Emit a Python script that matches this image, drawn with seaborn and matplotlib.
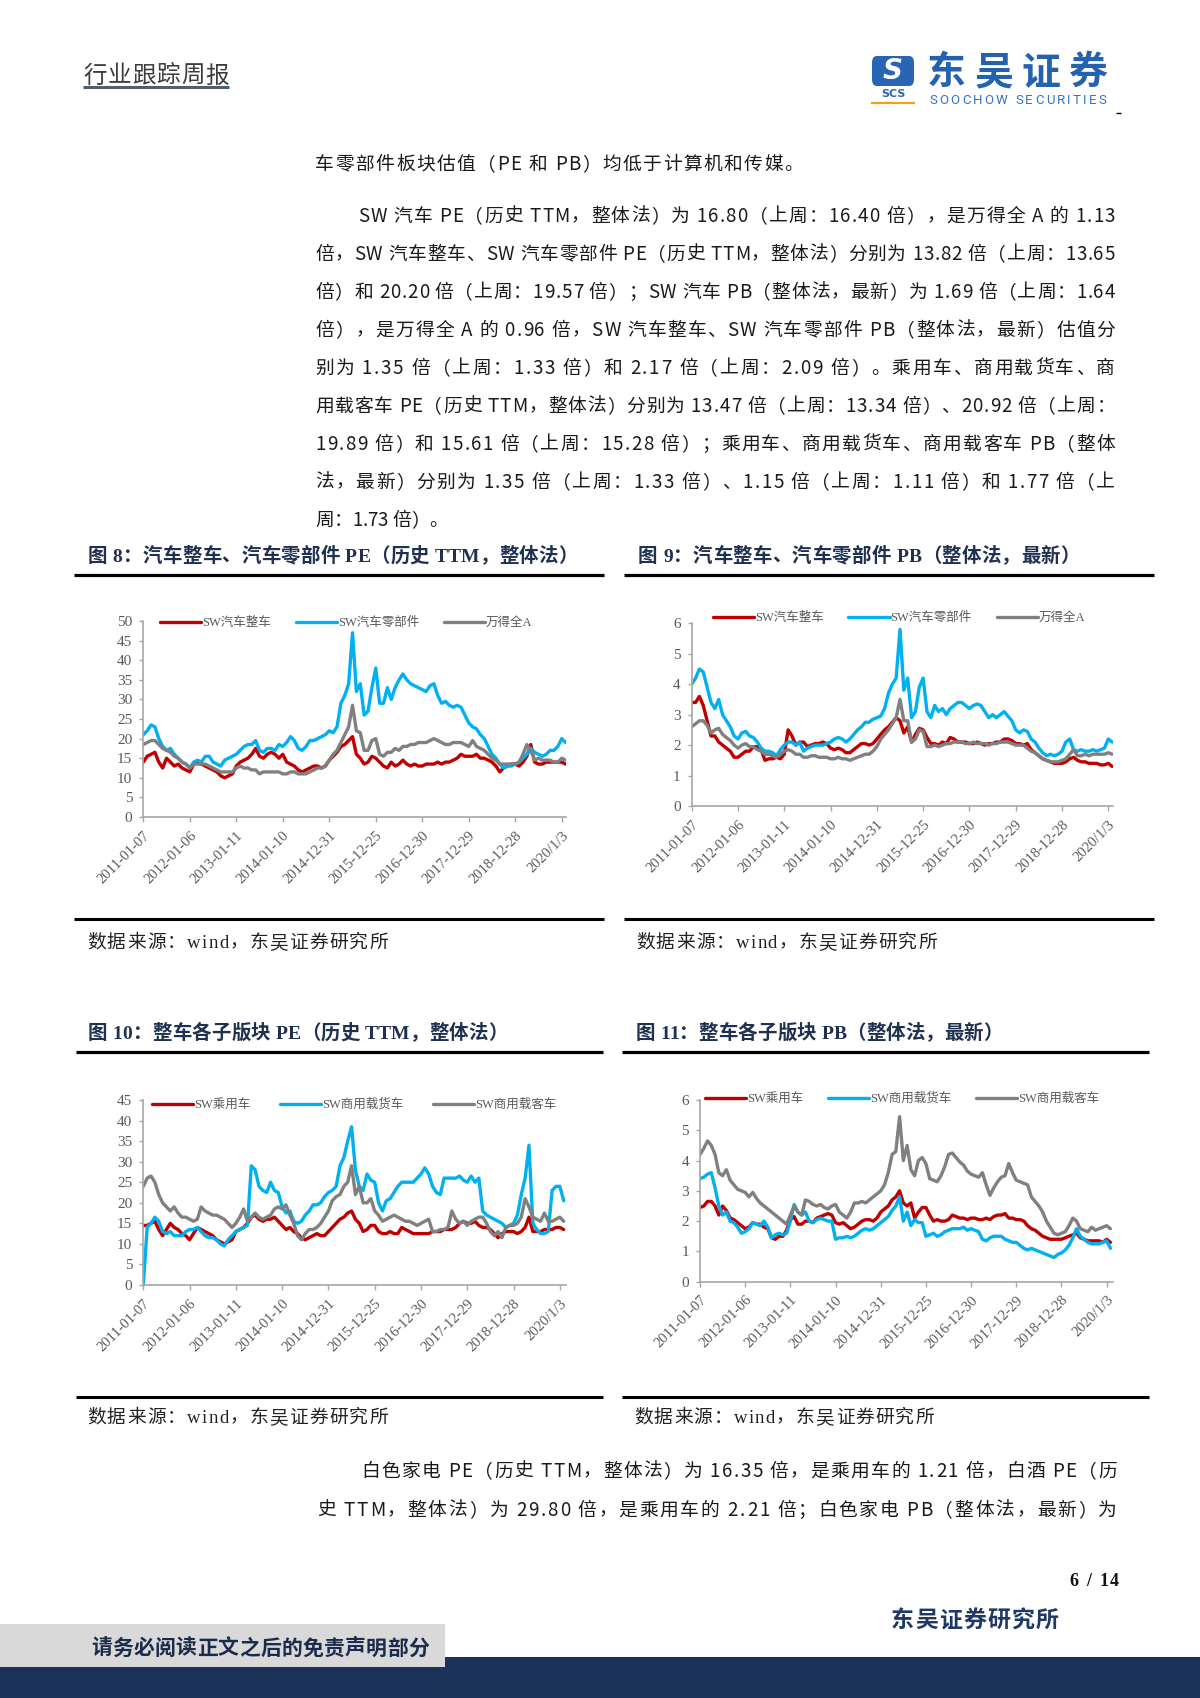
import numpy as np
import pandas as pd
import matplotlib
matplotlib.use("Agg")
import matplotlib.pyplot as plt
import seaborn as sns
from matplotlib.font_manager import FontProperties
from matplotlib.patches import Rectangle, FancyBboxPatch
from matplotlib.lines import Line2D

# ------------------------------------------------------------------ data
month_index = list(range(110))          # monthly points, 2011-01 .. 2020-02
tick_months = [0, 12, 24, 36, 48, 60, 72, 84, 96, 108]
tick_labels = ["2011-01-07", "2012-01-06", "2013-01-11", "2014-01-10", "2014-12-31",
               "2015-12-25", "2016-12-30", "2017-12-29", "2018-12-28", "2020/1/3"]

names_top = ["SW汽车整车", "SW汽车零部件", "万得全A"]
names_bot = ["SW乘用车", "SW商用载货车", "SW商用载客车"]

# Fig 8: PE (TTM)
pe_zc = [14, 15.5, 16, 16.5, 14, 12.5, 15, 14, 13, 13.5,
         12.5, 12, 11.5, 13.5, 14, 13.5, 13, 12.5, 12, 11.5,
         10.5, 10, 10.5, 11, 13, 14, 14.5, 15, 16, 17.5,
         15.5, 15, 16, 16.5, 16, 15, 16, 14, 13.5, 13,
         12, 11.5, 12, 12.5, 13, 13, 12.5, 13, 14.5, 15.5,
         16.5, 18, 18.5, 19.5, 20.5, 16, 15, 13.5, 14, 15.5,
         15, 14, 13, 12.5, 14, 13, 13.5, 14.5, 13.5, 13,
         13.5, 13, 13, 13.5, 13.5, 13.5, 14, 13.5, 14, 14,
         14.5, 15, 16, 15.5, 15.5, 15.5, 16, 15, 15, 14.5,
         14, 13, 11.5, 12.5, 13, 13.5, 13.5, 13, 14, 15.5,
         18.5, 14, 13.5, 13.5, 14, 14, 14, 14, 14, 13.5]
pe_lbj = [21, 22, 23.5, 23, 20, 18, 17, 17.5, 16, 15,
          14, 13.5, 12.5, 14, 14.5, 14, 15.5, 15.5, 14, 13.5,
          13, 14.5, 15, 15.5, 16, 17, 18, 18.5, 18.5, 19.5,
          17, 16.5, 17.5, 17.5, 17, 18.5, 18, 19, 20.5, 19.5,
          17.5, 17, 18, 19.5, 19.5, 20, 20.5, 21, 22, 21.5,
          23, 29, 31, 34, 47, 32, 34, 26, 27, 33,
          38, 29, 29, 33, 30, 33, 35, 36.5, 35, 34,
          33.5, 33, 32.5, 32, 33.5, 34, 31, 29, 29.5, 28.5,
          28, 28.5, 28, 26, 24, 23, 22.5, 21, 20, 18,
          16, 15, 13.5, 12.5, 13, 13, 13.5, 14, 15, 16,
          17.5, 16.5, 16, 15.5, 16, 17, 17, 18, 20, 19]
pe_qa = [18.5, 19, 19.5, 19.5, 18.5, 17.5, 17, 16.5, 15.5, 15,
         14, 13.5, 12.5, 13.5, 13.5, 13.5, 13.5, 13, 12.5, 12,
         11.5, 11.5, 11.5, 11.5, 12.5, 13, 12.5, 12.5, 12, 12,
         11, 11.5, 11.5, 11.5, 11.5, 11.5, 11, 11, 11.5, 11.5,
         11, 11, 11, 11.5, 12, 12.5, 12.5, 13, 14.5, 16,
         17, 19, 21, 23, 28.5, 22, 21.5, 17, 17, 19.5,
         20, 16, 15.5, 16.5, 16.5, 17.5, 17, 18, 18, 18.5,
         18.5, 19, 19, 19, 19.5, 20, 19.5, 19, 18.5, 18.5,
         19, 19, 19, 18.5, 18, 19.5, 18, 17.5, 17, 16,
         15, 14.5, 13.5, 13.5, 13.5, 13.5, 13.5, 14, 16, 18.5,
         17, 14.5, 15, 14.5, 14.5, 14.5, 14, 14, 15, 14.5]

# Fig 9: PB (LF)
pb_zc = [3.4, 3.4, 3.6, 3.3, 2.8, 2.3, 2.3, 2.1, 2.0, 1.9,
         1.8, 1.6, 1.6, 1.7, 1.8, 1.8, 1.95, 1.95, 1.85, 1.5,
         1.55, 1.55, 1.6, 1.55, 1.7, 2.5, 2.3, 2.0, 2.1, 2.1,
         1.95, 2.0, 2.05, 2.05, 2.1, 2.05, 1.9, 1.85, 1.9, 1.85,
         1.75, 1.75, 1.85, 1.95, 2.05, 2.05, 2.0, 2.05, 2.2, 2.35,
         2.5, 2.6, 2.75, 2.9, 2.8, 2.4, 2.6, 2.1, 2.35, 2.55,
         2.5, 2.25, 2.05, 2.05, 2.0, 2.1, 2.05, 2.25, 2.2, 2.1,
         2.1, 2.1, 2.05, 2.05, 2.1, 2.05, 2.0, 2.05, 2.05, 2.1,
         2.1, 2.2, 2.2, 2.15, 2.05, 2.05, 2.0, 2.05, 1.85, 1.75,
         1.65, 1.55, 1.5, 1.45, 1.4, 1.4, 1.4, 1.45, 1.55, 1.6,
         1.5, 1.45, 1.45, 1.4, 1.4, 1.4, 1.35, 1.35, 1.4, 1.3]
pb_lbj = [4.0, 4.2, 4.5, 4.4, 3.9, 3.4, 3.2, 3.5, 3.0, 2.8,
          2.6, 2.3, 2.2, 2.4, 2.45, 2.3, 2.25, 2.1, 1.9, 1.8,
          1.8, 1.75, 1.65, 1.85, 2.0, 2.1, 2.1, 2.0, 2.1, 1.8,
          1.9, 1.95, 2.0, 2.0, 2.0, 2.05, 2.1, 2.2, 2.25, 2.2,
          2.1, 2.2, 2.35, 2.5, 2.6, 2.75, 2.75, 2.85, 2.9, 2.95,
          3.2, 3.7, 4.0, 4.2, 5.8, 3.8, 4.2, 2.9, 3.1, 3.9,
          4.2, 3.1, 2.9, 3.3, 3.1, 3.2, 3.0, 3.2, 3.3, 3.4,
          3.4, 3.3, 3.2, 3.3, 3.35, 3.3, 3.1, 2.9, 3.0, 2.9,
          3.0, 3.1, 2.95, 2.8, 2.5, 2.4, 2.5, 2.45, 2.2, 2.1,
          1.9, 1.75, 1.65, 1.7, 1.65, 1.7, 1.8, 2.1, 2.2, 1.85,
          1.8, 1.85, 1.8, 1.8, 1.85, 1.8, 1.85, 1.9, 2.2, 2.1]
pb_qa = [2.6, 2.7, 2.8, 2.8, 2.65, 2.4, 2.5, 2.55, 2.35, 2.25,
         2.15, 2.0, 1.9, 2.0, 2.05, 1.95, 1.95, 1.85, 1.8, 1.7,
         1.7, 1.65, 1.6, 1.7, 1.8, 1.85, 1.8, 1.7, 1.7, 1.6,
         1.6, 1.65, 1.65, 1.6, 1.6, 1.6, 1.55, 1.55, 1.6, 1.55,
         1.55, 1.5, 1.55, 1.6, 1.65, 1.7, 1.7, 1.8, 1.95, 2.2,
         2.35, 2.5, 2.7, 2.9, 3.5, 2.8, 2.8, 2.1, 2.2, 2.5,
         2.45, 1.95, 1.95, 2.0, 1.95, 2.0, 2.05, 2.05, 2.1, 2.1,
         2.1, 2.05, 2.05, 2.1, 2.05, 2.05, 2.05, 2.0, 2.05, 2.05,
         2.1, 2.1, 2.1, 2.05, 2.0, 2.0, 2.0, 1.9, 1.8, 1.75,
         1.65, 1.55, 1.5, 1.45, 1.45, 1.45, 1.5, 1.55, 1.7, 1.85,
         1.65, 1.65, 1.7, 1.65, 1.7, 1.7, 1.7, 1.7, 1.75, 1.7]

# Fig 10: sub-sector PE (TTM)
pe_cyc = [14.5, 14.5, 15, 15.5, 13.5, 12, 13.5, 15, 14, 13.5,
          12.5, 12, 11, 12.5, 14, 13.5, 13, 12.5, 12, 11,
          10.5, 10, 10.5, 11, 13, 13.5, 14, 15, 16.5, 17,
          16, 15.5, 16, 16, 16.5, 15.5, 14.5, 13.5, 14, 13,
          12.5, 11.5, 11, 11.5, 12, 12.5, 12, 12, 13, 14,
          15, 16, 16.5, 17.5, 18, 16, 15, 13, 13.5, 14.5,
          14.5, 13, 12.5, 12.5, 13, 12.5, 12.5, 14, 13.5, 13,
          12.5, 12.5, 12.5, 12.5, 12.5, 13, 13, 13, 13.5, 13.5,
          13.5, 14, 15, 15.5, 15, 15, 15.5, 14.5, 14, 14,
          13.5, 12.5, 11.5, 12.5, 13, 13, 13, 12.5, 13, 14,
          16.5, 13, 13, 13, 13.5, 13.5, 13.5, 14, 14, 13.5]
pe_hc = [0, 14, 15, 16.5, 15.5, 13, 12.5, 13, 12, 12,
         12, 13, 13.5, 13.5, 14, 13, 12, 11.5, 11.5, 11,
         10, 9.5, 11, 12, 13, 13.5, 14, 14.5, 29, 28,
         24, 23, 22.5, 25, 23, 22.5, 19, 17.5, 18, 15.5,
         15, 15.5, 17, 18, 19.5, 19.5, 20, 21.5, 22.5, 23,
         24, 29, 31, 35, 38.5, 28, 24, 23, 27, 25.5,
         25, 20, 18, 20.5, 21, 22.5, 24, 25, 25, 25,
         25, 26, 27, 28.5, 27, 24, 22.5, 22, 26, 26,
         26, 26, 26.5, 25.5, 25, 26.5, 25, 26, 18, 17,
         16.5, 16, 15.5, 15, 14, 14.5, 15, 17, 22, 26,
         34, 15, 13.5, 12.5, 12.5, 13, 23, 24, 24, 20.5]
pe_kc = [24, 26, 26.5, 25, 22, 20, 19, 18, 19, 17.5,
         16.5, 16.5, 16, 15.5, 16, 19, 18, 17.5, 17, 17,
         16.5, 16, 15, 14, 15, 16.5, 18.5, 15.5, 16.5, 17.5,
         16.5, 16, 16.5, 17, 18.5, 19, 18.5, 19.5, 17, 15,
         12, 11, 12.5, 13.5, 13.5, 14, 15, 16.5, 18, 20.5,
         21.5, 22, 24, 25, 29, 22, 24, 20, 20, 21,
         18, 17, 15.5, 16, 16.5, 17, 16.5, 16, 15.5, 15.5,
         15, 14.5, 15, 15.5, 16, 13, 13, 13.5, 13.5, 14,
         18, 16, 15, 15.5, 14.5, 15.5, 16, 16.5, 16.5, 15,
         13, 12, 13, 11.5, 14, 14.5, 14.5, 15, 16.5, 21,
         19, 16.5, 16, 15.5, 17.5, 15.5, 15.5, 16, 16.5, 15.5]

# Fig 11: sub-sector PB (LF)
pb_cyc = [2.45, 2.5, 2.65, 2.65, 2.5, 2.2, 2.5, 2.35, 2.1, 2.05,
          1.95, 1.85, 1.75, 1.8, 1.95, 1.9, 1.9, 1.8, 1.75, 1.45,
          1.4, 1.5, 1.5, 1.7, 2.05, 2.15, 1.9, 1.9, 2.0, 2.0,
          1.95, 2.1, 2.15, 2.2, 2.25, 2.2, 1.95, 1.9, 1.95, 1.85,
          1.75, 1.8, 1.9, 2.0, 2.05, 2.05, 2.0, 2.1, 2.3, 2.4,
          2.5, 2.7, 2.8, 3.0, 2.6, 2.5, 2.6, 2.1, 2.3, 2.45,
          2.45, 2.2, 2.0, 2.05, 2.0, 2.0, 2.05, 2.2, 2.15, 2.1,
          2.1, 2.05, 2.1, 2.1, 2.05, 2.05, 2.1, 2.05, 2.15, 2.2,
          2.2, 2.25, 2.1, 2.1, 2.05, 2.05, 2.0, 1.85, 1.75, 1.7,
          1.6, 1.5, 1.45, 1.4, 1.4, 1.4, 1.4, 1.45, 1.5, 1.55,
          1.6, 1.45, 1.4, 1.35, 1.35, 1.35, 1.35, 1.3, 1.4, 1.3]
pb_hc = [3.4, 3.45, 3.55, 3.6, 3.1, 2.5, 2.2, 2.3, 2.0, 1.95,
         1.8, 1.6, 1.65, 1.75, 1.95, 1.9, 1.85, 2.0, 1.8, 1.45,
         1.55, 1.6, 1.55, 1.6, 2.0, 2.55, 2.3, 2.2, 2.3, 2.0,
         1.95, 2.05, 2.1, 2.05, 2.0, 2.0, 1.4, 1.45, 1.45, 1.5,
         1.45, 1.5, 1.6, 1.7, 1.75, 1.7, 1.75, 1.85, 1.95, 2.05,
         2.15, 2.35, 2.5, 2.8, 2.0, 2.3, 1.85, 2.05, 1.95, 1.95,
         1.5, 1.55, 1.6, 1.5, 1.55, 1.65, 1.7, 1.75, 1.75, 1.75,
         1.8, 1.7, 1.75, 1.7, 1.65, 1.4, 1.35, 1.45, 1.5, 1.5,
         1.5, 1.4, 1.35, 1.3, 1.3, 1.2, 1.1, 1.05, 1.1, 1.05,
         1.0, 0.95, 0.9, 0.85, 0.8, 0.9, 0.95, 1.05, 1.2, 1.45,
         1.75, 1.5, 1.4, 1.3, 1.25, 1.25, 1.25, 1.3, 1.35, 1.1]
pb_kc = [4.2, 4.4, 4.65, 4.5, 4.2, 3.6, 3.5, 3.7, 3.35, 3.2,
         3.05, 3.0, 2.95, 2.8, 2.95, 2.75, 2.6, 2.5, 2.4, 2.3,
         2.2, 2.1, 2.0, 1.9, 2.2, 2.5, 2.3, 2.2, 2.7, 2.65,
         2.55, 2.5, 2.55, 2.45, 2.4, 2.5, 2.55, 2.3, 2.2, 2.1,
         2.3, 2.6, 2.6, 2.65, 2.6, 2.7, 2.8, 2.9, 3.0, 3.2,
         3.6, 4.2, 4.3, 5.45, 4.0, 4.5, 3.7, 3.5, 4.0, 4.1,
         3.9, 3.4, 3.35, 3.3, 3.5, 3.8, 4.2, 4.25, 4.1, 3.95,
         3.85, 3.65, 3.55, 3.5, 3.45, 3.6, 3.2, 2.85, 3.1, 3.3,
         3.45, 3.5, 3.9, 3.6, 3.35, 3.3, 3.25, 3.2, 2.8, 2.65,
         2.5, 2.3, 2.0, 1.8, 1.6, 1.55, 1.6, 1.65, 1.85, 2.1,
         2.0, 1.75, 1.7, 1.65, 1.8, 1.7, 1.75, 1.8, 1.85, 1.75]

series_colors = ["#c00000", "#00b0f0", "#808080"]

# ------------------------------------------------------------------ texts
header_title = "行业跟踪周报"
logo_cn = "东吴证券"
logo_en = "SOOCHOW SECURITIES"
body_lines = [
    "车零部件板块估值（PE 和 PB）均低于计算机和传媒。",
    "SW 汽车 PE（历史 TTM，整体法）为 16.80（上周：16.40 倍），是万得全 A 的 1.13",
    "倍，SW 汽车整车、SW 汽车零部件 PE（历史 TTM，整体法）分别为 13.82 倍（上周：13.65",
    "倍）和 20.20 倍（上周：19.57 倍）；SW 汽车 PB（整体法，最新）为 1.69 倍（上周：1.64",
    "倍），是万得全 A 的 0.96 倍，SW 汽车整车、SW 汽车零部件 PB（整体法，最新）估值分",
    "别为 1.35 倍（上周：1.33 倍）和 2.17 倍（上周：2.09 倍）。乘用车、商用载货车、商",
    "用载客车 PE（历史 TTM，整体法）分别为 13.47 倍（上周：13.34 倍）、20.92 倍（上周：",
    "19.89 倍）和 15.61 倍（上周：15.28 倍）；乘用车、商用载货车、商用载客车 PB（整体",
    "法，最新）分别为 1.35 倍（上周：1.33 倍）、1.15 倍（上周：1.11 倍）和 1.77 倍（上",
    "周：1.73 倍）。",
]
fig_titles = ["图 8：汽车整车、汽车零部件 PE（历史 TTM，整体法）",
              "图 9：汽车整车、汽车零部件 PB（整体法，最新）",
              "图 10：整车各子版块 PE（历史 TTM，整体法）",
              "图 11：整车各子版块 PB（整体法，最新）"]
source_text = "数据来源：wind，东吴证券研究所"
tail_lines = ["白色家电 PE（历史 TTM，整体法）为 16.35 倍，是乘用车的 1.21 倍，白酒 PE（历",
              "史 TTM，整体法）为 29.80 倍，是乘用车的 2.21 倍；白色家电 PB（整体法，最新）为"]
page_no = "6 / 14"
footer_org = "东吴证券研究所"
disclaimer = "请务必阅读正文之后的免责声明部分"

# ------------------------------------------------------------------ setup
sns.set_theme(style="white")
CJK = ["Noto Sans CJK SC", "DejaVu Sans"]
SERIF_CJK = ["Liberation Serif", "Noto Sans CJK SC"]
plt.rcParams["font.family"] = CJK
plt.rcParams["axes.unicode_minus"] = False

W, H = 1200, 1698
fig = plt.figure(figsize=(W / 100, H / 100), dpi=100)
fig.patch.set_facecolor("white")
renderer = fig.canvas.get_renderer()


def fx(x):
    return x / W


def fy(y):
    return 1 - y / H


def measure(s, fp):
    w, h, d = renderer.get_text_width_height_descent(s, fp, ismath=False)
    return w


def jtext(x0, x1, y, s, size, family=CJK, weight="normal", color="#1a1a1a"):
    """Draw text spread so that it spans x0..x1 (pixels); y = visual centre."""
    fp = FontProperties(family=family, size=size, weight=weight)
    total = measure(s, fp)
    L = len(s)
    extra = (x1 - x0) - total
    base = y + 0.36 * size * 100 / 72
    for i, c in enumerate(s):
        if c == " ":
            continue
        left = measure(s[: i + 1], fp) - measure(c, fp)
        xpos = x0 + left + (extra * i / (L - 1) if L > 1 else 0)
        fig.text(fx(xpos), fy(base), c, fontproperties=fp, color=color,
                 ha="left", va="baseline")


def hline(x0, x1, y, lw, color="black"):
    fig.add_artist(Line2D([fx(x0), fx(x1)], [fy(y), fy(y)], lw=lw, color=color,
                          transform=fig.transFigure, solid_capstyle="butt"))


def rect(x0, y0, x1, y1, color, z=0):
    fig.add_artist(Rectangle((fx(x0), fy(y1)), (x1 - x0) / W, (y1 - y0) / H,
                             transform=fig.transFigure, facecolor=color,
                             edgecolor="none", zorder=z))


# ------------------------------------------------------------------ header
jtext(83, 229, 74, header_title, 17, color="#3c3c3c")
hline(83, 229, 87, 2.2, "#4d5e70")
fig.add_artist(FancyBboxPatch((fx(872), fy(86)), 42 / W, 30 / H,
                              boxstyle="round,pad=0,rounding_size=0.004",
                              transform=fig.transFigure, facecolor="#2a64b4",
                              edgecolor="none"))
fig.text(fx(893), fy(71), "S", fontsize=20, fontweight="bold", style="italic",
         color="white", ha="center", va="center", family="DejaVu Sans")
fig.text(fx(893), fy(94), "SCS", fontsize=8, fontweight="bold", color="#2a64b4",
         ha="center", va="center", family="DejaVu Sans")
hline(871, 915, 103, 1.6, "#f0a020")
jtext(927, 1108, 70, logo_cn, 28, weight="bold", color="#2462b0")
jtext(929, 1106, 99, logo_en, 9.5, family=["Roboto", "DejaVu Sans"], color="#3474c4")
hline(1116, 1121, 113, 1.0, "black")

# ------------------------------------------------------------------ body
body_spans = [(315, 803), (358, 1115), (315, 1115), (315, 1115), (315, 1115),
              (315, 1115), (315, 1115), (315, 1115), (315, 1115), (315, 448)]
body_y = [163, 215, 253, 291, 329, 367, 405, 443, 481, 519]
for (a, b), yy, s in zip(body_spans, body_y, body_lines):
    jtext(a, b, yy, s, 13.5)

# ------------------------------------------------------------------ figure frames
title_color = "#1f3050"
jtext(88, 578, 555, fig_titles[0], 14, family=SERIF_CJK, weight="bold", color=title_color)
jtext(638, 1080, 555, fig_titles[1], 14, family=SERIF_CJK, weight="bold", color=title_color)
jtext(88, 508, 1032, fig_titles[2], 14, family=SERIF_CJK, weight="bold", color=title_color)
jtext(636, 1003, 1032, fig_titles[3], 14, family=SERIF_CJK, weight="bold", color=title_color)
hline(74, 604, 575, 2.3)
hline(624, 1154, 575, 2.3)
hline(74, 604, 919, 2.2)
hline(624, 1154, 919, 2.2)
hline(76, 603, 1052, 2.3)
hline(622, 1149, 1052, 2.3)
hline(76, 603, 1397, 2.2)
hline(622, 1149, 1397, 2.2)
jtext(87, 388, 941, source_text, 13.5, family=SERIF_CJK, color="#222222")
jtext(636, 937, 941, source_text, 13.5, family=SERIF_CJK, color="#222222")
jtext(87, 388, 1416, source_text, 13.5, family=SERIF_CJK, color="#222222")
jtext(634, 934, 1416, source_text, 13.5, family=SERIF_CJK, color="#222222")


# ------------------------------------------------------------------ charts
def make_chart(box, names, values, ymax, ystep, xend, leg_x, leg_y, colsp):
    x0, x1, ytop, ybot = box
    ax = fig.add_axes([fx(x0), fy(ybot), (x1 - x0) / W, (ybot - ytop) / H])
    ax.set_facecolor("none")
    df = pd.DataFrame({
        "month": np.tile(month_index, len(names)),
        "value": np.concatenate([np.asarray(v, dtype=float) for v in values]),
        "series": np.repeat(names, len(month_index)),
    })
    sns.lineplot(data=df, x="month", y="value", hue="series", hue_order=names,
                 palette=series_colors, linewidth=2.4, ax=ax)
    ax.set_xlim(0, xend)
    ax.set_ylim(0, ymax)
    ax.set_xlabel("")
    ax.set_ylabel("")
    for side in ("top", "right"):
        ax.spines[side].set_visible(False)
    for side in ("left", "bottom"):
        ax.spines[side].set_color("#a6a6a6")
        ax.spines[side].set_linewidth(1.2)
    yt = np.arange(0, ymax + ystep / 2, ystep)
    ax.set_yticks(yt)
    ax.set_yticklabels([f"{v:g}" for v in yt], family="Liberation Serif",
                       fontsize=11, color="#595959")
    ax.set_xticks(tick_months)
    ax.set_xticklabels(tick_labels, rotation=45, ha="right", va="top",
                       rotation_mode="anchor", family="Liberation Serif",
                       fontsize=10.5, color="#595959")
    ax.tick_params(axis="y", left=True, direction="out", length=3, width=1,
                   color="#a6a6a6", pad=5)
    ax.tick_params(axis="x", bottom=True, direction="out", length=3.5, width=1,
                   color="#a6a6a6", pad=5)
    handles, labels = ax.get_legend_handles_labels()
    if ax.get_legend() is not None:
        ax.get_legend().remove()
    ax.legend(handles, labels, loc="center left", bbox_to_anchor=(leg_x, leg_y),
              ncol=3, frameon=False, handlelength=3.3, handletextpad=0.05,
              columnspacing=colsp, borderpad=0, borderaxespad=0,
              prop=FontProperties(family=SERIF_CJK, size=9),
              labelcolor="#595959")
    return ax


make_chart((143.3, 566, 621, 817), names_top, [pe_zc, pe_lbj, pe_qa],
           50, 5, 109.1, 0.04, 0.99, 2.0)
make_chart((691.7, 1113.3, 623.3, 806), names_top, [pb_zc, pb_lbj, pb_qa],
           6, 1, 109.3, 0.05, 1.03, 2.0)
make_chart((143.3, 566, 1100, 1285), names_bot, [pe_cyc, pe_hc, pe_kc],
           45, 5, 109.6, 0.02, 0.973, 2.4)
make_chart((700, 1112.7, 1100, 1281.7), names_bot, [pb_cyc, pb_hc, pb_kc],
           6, 1, 109.6, 0.012, 1.005, 2.0)

# ------------------------------------------------------------------ tail text & footer
jtext(361, 1117, 1470, tail_lines[0], 13.5)
jtext(317, 1117, 1509, tail_lines[1], 13.5)
jtext(1069, 1119, 1580, page_no, 13, family=["Liberation Serif"], weight="bold",
      color="#111111")
jtext(891, 1058, 1619, footer_org, 16.5, weight="bold", color="#1f3864")
rect(0, 1657, 1200, 1698, "#1b3358", z=1)
rect(0, 1624, 445, 1667, "#d9d9d9", z=2)
jtext(91, 429, 1647, disclaimer, 15, weight="bold", color="#1b2b4b")

fig.savefig("out.png", dpi=100, facecolor="white")
